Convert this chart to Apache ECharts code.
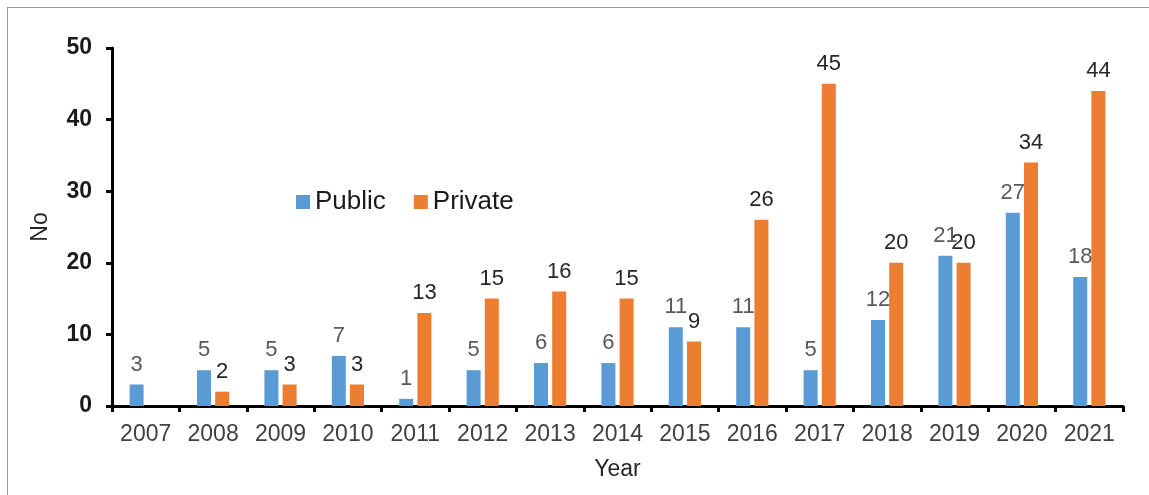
<!DOCTYPE html>
<html>
<head>
<meta charset="utf-8">
<script src="https://cdn.jsdelivr.net/npm/echarts@6/dist/echarts.min.js"></script>
<style>
  html, body { margin: 0; padding: 0; background: #fff; }
  .frame {
    position: absolute; left: 7px; top: 7px; right: 0; bottom: 0;
    border-top: 1px solid #9a9a9a; border-left: 1px solid #9a9a9a;
  }
  #chart { position: absolute; left: 0; top: 0; width: 1149px; height: 495px; }
</style>
</head>
<body>
<div class="frame"></div>
<div id="chart"></div>
<script>
// 公立 / 私立 每年数量
const years = ['2007', '2008', '2009', '2010', '2011', '2012', '2013', '2014',
  '2015', '2016', '2017', '2018', '2019', '2020', '2021']
const publicValues = [3, 5, 5, 7, 1, 5, 6, 6, 11, 11, 5, 12, 21, 27, 18]
const privateValues = [null, 2, 3, 3, 13, 15, 16, 15, 9, 26, 45, 20, 20, 34, 44]
const yTicks = [0, 10, 20, 30, 40, 50]

const font = 'Liberation Sans, Arial, sans-serif'
const myChart = echarts.init(document.getElementById('chart'))

const option = {
  backgroundColor: 'transparent',
  textStyle: { fontFamily: font },
  legend: {
    left: 291,
    top: 184,
    itemWidth: 14,
    itemHeight: 14,
    itemGap: 28,
    icon: 'rect',
    textStyle: { fontSize: 26, color: '#1a1a1a', fontFamily: font },
    data: ['Public', 'Private'],
  },
  grid: { left: 112, top: 48, right: 26, bottom: 89 },
  xAxis: {
    type: 'category',
    data: years,
    name: 'Year',
    nameLocation: 'middle',
    nameGap: 52,
    nameTextStyle: { fontSize: 23, color: '#262626', fontFamily: font },
    axisLine: { lineStyle: { color: '#000', width: 3 } },
    axisTick: { show: true, length: 6, lineStyle: { color: '#000', width: 3 } },
    axisLabel: { fontSize: 23, color: '#404040', margin: 17, fontFamily: font },
  },
  yAxis: {
    type: 'value',
    min: yTicks[0],
    max: yTicks[yTicks.length - 1],
    interval: 10,
    name: 'No',
    nameLocation: 'middle',
    nameGap: 60,
    nameTextStyle: { fontSize: 23, color: '#262626', fontFamily: font },
    splitLine: { show: false },
    axisLine: { show: true, lineStyle: { color: '#000', width: 3 } },
    axisTick: { show: true, length: 6, lineStyle: { color: '#000', width: 3 } },
    axisLabel: { fontSize: 23, fontWeight: 'bold', color: '#1a1a1a', margin: 20, fontFamily: font },
  },
  series: [
    {
      name: 'Public',
      type: 'bar',
      data: publicValues,
      barWidth: 14,
      barGap: '30%',
      itemStyle: { color: '#5b9bd5' },
      label: { show: true, position: 'top', distance: 9, fontSize: 22, color: '#595959', fontFamily: font },
    },
    {
      name: 'Private',
      type: 'bar',
      data: privateValues,
      barWidth: 14,
      itemStyle: { color: '#ed7d31' },
      label: { show: true, position: 'top', distance: 9, fontSize: 22, color: '#262626', fontFamily: font },
    },
  ],
}
myChart.setOption(option)
</script>
</body>
</html>
